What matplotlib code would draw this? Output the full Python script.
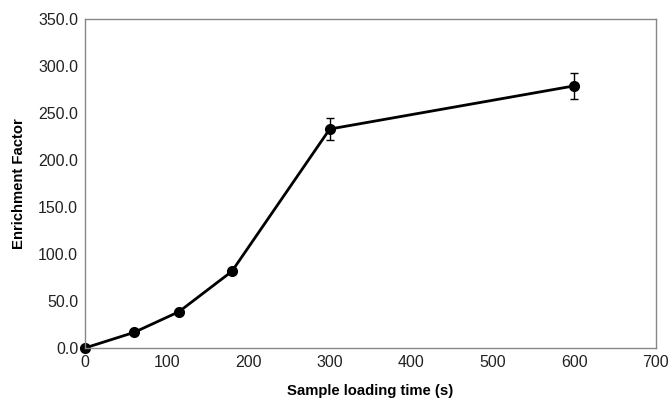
import matplotlib.pyplot as plt
import numpy as np
from matplotlib.ticker import FormatStrFormatter

plt.rcParams['font.family'] = ['Liberation Sans', 'DejaVu Sans']

# data
loading_time = [0, 60, 115, 180, 300, 600]
enrichment = [0.0, 16.5, 38.5, 81.5, 233.0, 279.0]
error = [0.0, 0.0, 0.0, 0.0, 11.5, 14.0]

x_ticks = [0, 100, 200, 300, 400, 500, 600, 700]
y_ticks = [0, 50, 100, 150, 200, 250, 300, 350]

fig = plt.figure(figsize=(6.70, 3.99), dpi=100)
ax = fig.add_axes([0.127, 0.128, 0.852, 0.824])

yerr = np.array(error)
ax.errorbar(loading_time, enrichment, yerr=np.where(yerr > 0, yerr, np.nan),
            color='black', linewidth=2, marker='o', markersize=7,
            ecolor='black', elinewidth=1, capsize=3, capthick=1)

ax.set_xlim(0, 700)
ax.set_ylim(0, 350)
ax.set_xticks(x_ticks)
ax.set_yticks(y_ticks)
ax.yaxis.set_major_formatter(FormatStrFormatter('%.1f'))
ax.tick_params(length=0, labelsize=11.5, colors='#222222', pad=5)
for s in ax.spines.values():
    s.set_color('#888888')
    s.set_linewidth(1)
for c in ax.get_children():
    c.set_clip_on(False)

ax.set_xlabel('Sample loading time (s)', fontsize=10.7, fontweight='bold', labelpad=10)
ax.set_ylabel('Enrichment Factor', fontsize=10.7, fontweight='bold', labelpad=9)

fig.savefig('out.png', dpi=100)
